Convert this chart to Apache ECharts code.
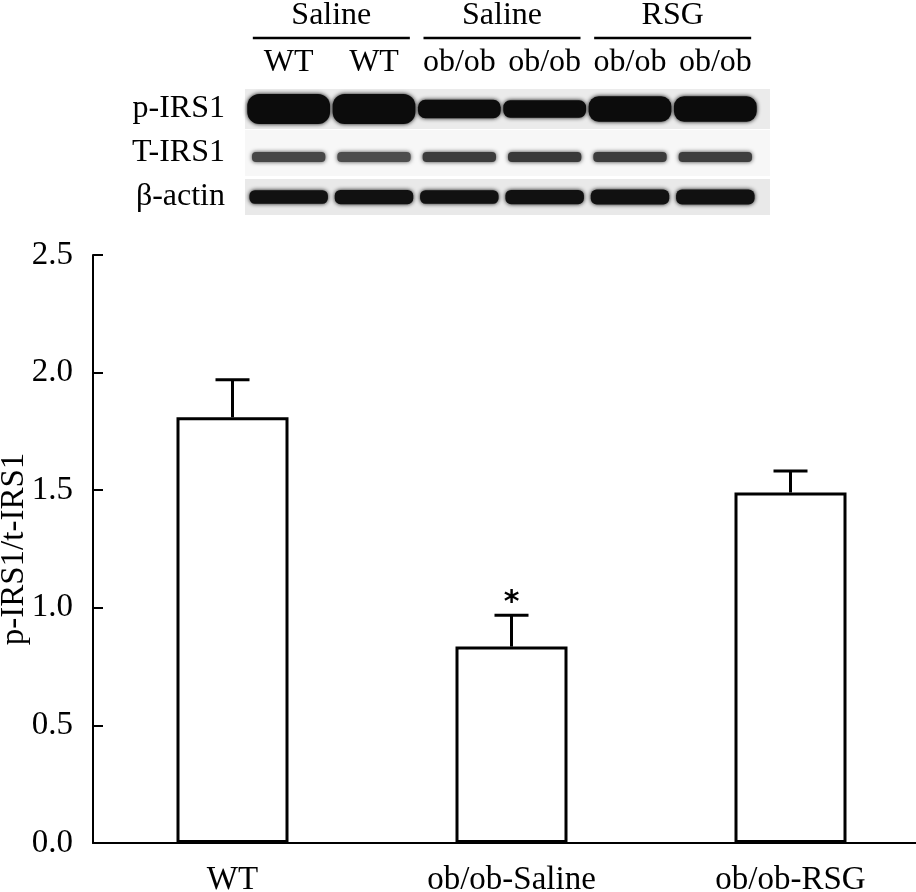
<!DOCTYPE html>
<html>
<head>
<meta charset="UTF-8">
<title>p-IRS1/t-IRS1</title>
<script src="https://cdn.jsdelivr.net/npm/echarts@6/dist/echarts.min.js"></script>
<style>
    html, body { margin: 0; padding: 0; background: #fff; }
    #chart { width: 916px; height: 892px; }
</style>
</head>
<body>
<div id="chart"></div>
<script>
// bar chart values
const groups = ['WT', 'ob/ob-Saline', 'ob/ob-RSG'];
const ratio = [1.81, 0.835, 1.49];
const sem = [0.16, 0.133, 0.092];
const marks = ['', '*', ''];
const yMin = 0, yMax = 2.5, yStep = 0.5;

// western blot panel
const lanes = ['WT', 'WT', 'ob/ob', 'ob/ob', 'ob/ob', 'ob/ob'];
const laneGroups = ['Saline', 'Saline', 'RSG'];
const groupFirstLane = [0, 2, 4];
const groupLastLane = [1, 3, 5];
const blotRows = ['p-IRS1', 'T-IRS1', 'β-actin'];
const pIRS1Band = [1.0, 1.0, 0.62, 0.58, 0.85, 0.85];   // band thickness
const tIRS1Band = [0.72, 0.66, 0.82, 0.85, 0.82, 0.8];  // band darkness
const actinBand = [0.9, 0.95, 0.9, 0.95, 1.0, 1.0];     // band thickness

const FONT = '"Liberation Serif", "Times New Roman", serif';

const chart = echarts.init(document.getElementById('chart'));

const bandData = [];
[pIRS1Band, tIRS1Band, actinBand].forEach((arr, row) => {
    arr.forEach((s, lane) => bandData.push([lane, row, s]));
});

function renderStrip(params, api) {
    const row = api.value(0);
    const c = api.coord([0, row]);
    const cs = params.coordSys;
    const h = [40, 46, 36][row];
    const fill = ['#ebebeb', '#f7f7f7', '#e9e9e9'][row];
    return {
        type: 'rect',
        shape: { x: cs.x - 1, y: c[1] - h / 2, width: cs.width + 13, height: h },
        style: { fill: fill }
    };
}

function renderBand(params, api) {
    const lane = api.value(0), row = api.value(1), s = api.value(2);
    const c = api.coord([lane, row]);
    const cell = api.size([1, 1]);
    let w, h, col, dy = 0;
    if (row === 0) {
        w = cell[0] * 0.97; h = 30 * s; col = '#0c0c0c';
    } else if (row === 1) {
        const g = Math.round(150 - 110 * s);
        w = cell[0] * 0.86; h = 10; col = 'rgb(' + g + ',' + g + ',' + g + ')'; dy = 4;
    } else {
        w = cell[0] * 0.92; h = 15 * s; col = '#111';
    }
    return {
        type: 'rect',
        shape: { x: c[0] - w / 2, y: c[1] + dy - h / 2, width: w, height: h, r: h / 2.5 },
        style: { fill: col, shadowBlur: 4, shadowColor: col }
    };
}

function renderGroup(params, api) {
    const i = params.dataIndex;
    const p1 = api.coord([groupFirstLane[i], 0]);
    const p2 = api.coord([groupLastLane[i], 0]);
    const half = api.size([1, 0])[0] * 0.42;
    const cs = params.coordSys;
    const lineY = cs.y - 49;
    return {
        type: 'group',
        children: [
            {
                type: 'line',
                shape: { x1: p1[0] - half, y1: lineY, x2: p2[0] + half, y2: lineY },
                style: { stroke: '#000', lineWidth: 2.5 }
            },
            {
                type: 'text',
                style: {
                    text: laneGroups[i], x: (p1[0] + p2[0]) / 2, y: lineY - 22,
                    align: 'center', verticalAlign: 'middle',
                    font: '32px ' + FONT, fill: '#000'
                }
            }
        ]
    };
}

function renderError(params, api) {
    const i = api.value(0);
    const base = api.coord([i, api.value(1)]);
    const top = api.coord([i, api.value(2)]);
    const cap = 17;
    const children = [
        { type: 'line', shape: { x1: base[0], y1: base[1], x2: top[0], y2: top[1] }, style: { stroke: '#000', lineWidth: 3 } },
        { type: 'line', shape: { x1: top[0] - cap, y1: top[1], x2: top[0] + cap, y2: top[1] }, style: { stroke: '#000', lineWidth: 3 } }
    ];
    if (marks[i]) {
        children.push({
            type: 'text',
            style: {
                text: marks[i], x: top[0], y: top[1] - 12,
                align: 'center', verticalAlign: 'middle',
                font: 'bold 30px "DejaVu Sans"', fill: '#000'
            }
        });
    }
    return { type: 'group', children: children };
}

const option = {
    animation: false,
    backgroundColor: '#fff',
    grid: [
        { left: 93, top: 255, width: 837, height: 588, outerBoundsMode: 'none', containLabel: false },
        { left: 246, top: 87, width: 512, height: 132, outerBoundsMode: 'none', containLabel: false }
    ],
    xAxis: [
        {
            type: 'category', gridIndex: 0, data: groups,
            axisLine: { lineStyle: { color: '#000', width: 2 } },
            axisTick: { show: false },
            axisLabel: { color: '#000', fontSize: 33, fontFamily: FONT, margin: 21 }
        },
        {
            type: 'category', gridIndex: 1, data: lanes, position: 'top',
            axisLine: { show: false }, axisTick: { show: false },
            axisLabel: { color: '#000', fontSize: 32, fontFamily: FONT, margin: 8, interval: 0 }
        }
    ],
    yAxis: [
        {
            type: 'value', gridIndex: 0, min: yMin, max: yMax, interval: yStep,
            name: 'p-IRS1/t-IRS1', nameLocation: 'middle', nameGap: 62, nameMoveOverlap: false,
            nameTextStyle: { color: '#000', fontSize: 33, fontFamily: FONT },
            axisLine: { show: true, lineStyle: { color: '#000', width: 2 } },
            axisTick: { show: true, inside: true, length: 10, lineStyle: { color: '#000', width: 2 } },
            axisLabel: { color: '#000', fontSize: 33, fontFamily: FONT, margin: 20, formatter: v => v.toFixed(1) },
            splitLine: { show: false }
        },
        {
            type: 'category', gridIndex: 1, data: blotRows, inverse: true,
            axisLine: { show: false }, axisTick: { show: false },
            axisLabel: { color: '#000', fontSize: 32, fontFamily: FONT, margin: 21 }
        }
    ],
    series: [
        {
            type: 'bar', xAxisIndex: 0, yAxisIndex: 0, data: ratio, barWidth: 112,
            itemStyle: { color: '#fff', borderColor: '#000', borderWidth: 3 }
        },
        {
            type: 'custom', xAxisIndex: 0, yAxisIndex: 0, z: 5,
            data: groups.map((g, i) => [i, ratio[i], ratio[i] + sem[i]]),
            renderItem: renderError
        },
        {
            type: 'custom', xAxisIndex: 1, yAxisIndex: 1, z: 1,
            data: blotRows.map((r, i) => [i]),
            renderItem: renderStrip
        },
        {
            type: 'custom', xAxisIndex: 1, yAxisIndex: 1, z: 2,
            data: bandData,
            renderItem: renderBand
        },
        {
            type: 'custom', xAxisIndex: 1, yAxisIndex: 1, z: 3,
            data: laneGroups.map((g, i) => [groupFirstLane[i], groupLastLane[i]]),
            renderItem: renderGroup
        }
    ]
};

chart.setOption(option);
</script>
</body>
</html>
